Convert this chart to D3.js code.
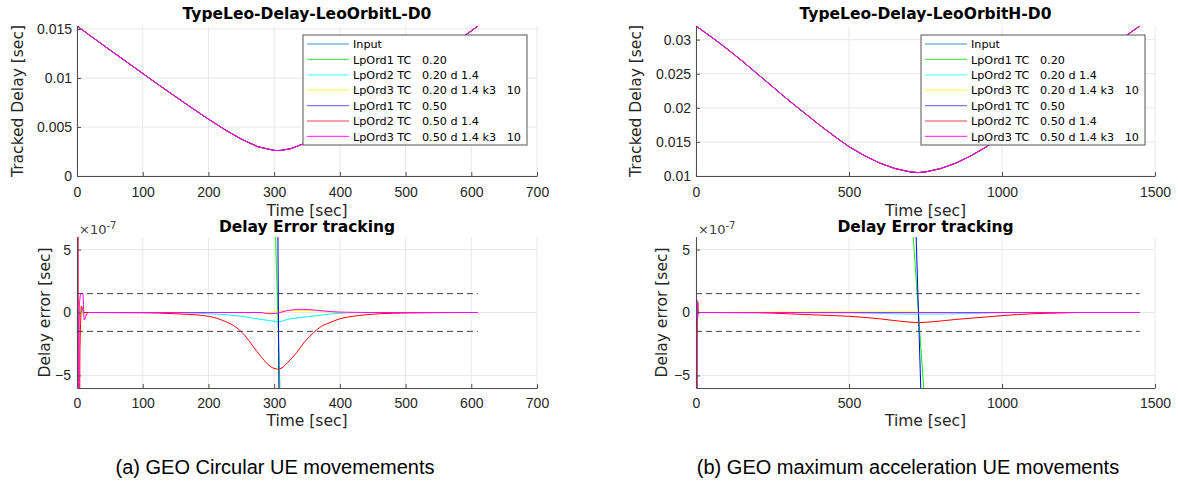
<!DOCTYPE html>
<html>
<head>
<meta charset="utf-8">
<script src="https://cdn.jsdelivr.net/npm/d3@7"></script>
<style>
  body { margin: 0; background: #fff; }
  svg { font-family: 'DejaVu Sans', sans-serif; }
  .axis .tick text { fill: #262626; font-size: 14px; }
  .axis path.domain { stroke: #4d4d4d; }
  .axis .tick line { stroke: #4d4d4d; }
  .grid { stroke: #e8e8e8; stroke-width: 1px; }
  .lbl { fill: #262626; font-size: 15.5px; }
  .ttl { fill: #000; font-size: 15.5px; font-weight: bold; }
  .leg text { font-size: 11.2px; fill: #000; }
  .cap { font-family: 'Liberation Sans', Arial, sans-serif; font-size: 20px; fill: #000; }
  .thr { fill: none; stroke: #404040; stroke-width: 1px; stroke-dasharray: 6,4; }
</style>
</head>
<body>
<svg id="fig" width="1178" height="481"></svg>
<script>
// ---- data ----
var legendLabels = ['Input', 'LpOrd1 TC   0.20', 'LpOrd2 TC   0.20 d 1.4', 'LpOrd3 TC   0.20 d 1.4 k3   10',
                    'LpOrd1 TC   0.50', 'LpOrd2 TC   0.50 d 1.4', 'LpOrd3 TC   0.50 d 1.4 k3   10'];

// panel (a): LeoOrbitL
var timeL  = [0, 25, 50, 75, 100, 125, 150, 175, 200, 225, 250, 275, 300, 305, 310, 325, 350, 375, 400, 425, 450, 475, 500, 525, 550, 575, 600, 610];
var delayL = [0.0153, 0.01407, 0.01286, 0.01166, 0.01046, 0.00926, 0.00809, 0.00693, 0.0058, 0.00473, 0.00376, 0.00299, 0.00261, 0.0026,
              0.00261, 0.00278, 0.00342, 0.00433, 0.00536, 0.00647, 0.00762, 0.00879, 0.00998, 0.01118, 0.01238, 0.01359, 0.0148, 0.0153];
var xTicksL = [0, 100, 200, 300, 400, 500, 600, 700];
var yTicksL = [0, 0.005, 0.01, 0.015];
var yTickLabelsL = ['0', '0.005', '0.01', '0.015'];

// tracking errors, units of 1e-7 s, [time, error]
var errGreenL   = [[0,0],[1,95],[280,70],[296,25],[302,6.5],[305.5,0],[309,-6.5],[315,-25],[330,-70],[610,-95]];
var errCyanL    = [[0,0],[0.7,-25],[2,-3.4],[4,0.5],[8,0],[150,-0.02],[200,-0.1],[250,-0.3],[280,-0.55],[300,-0.7],[305,-0.75],
                   [320,-0.55],[340,-0.4],[360,-0.28],[380,-0.15],[400,-0.06],[430,0],[610,0]];
var errYellowL  = [[0,0],[0.5,-30],[1.5,-20],[3,1],[6,-0.3],[10,0],[290,0],[300,0.05],[320,0.15],[350,0.15],[380,0.08],[400,0.02],[430,0],[520,0]];
var errBlueL    = [[0,0],[0.5,240],[300,60],[305,12],[306.5,0],[308,-12],[313,-60],[610,-240]];
var errRedL     = [[0,0],[1,40],[2.5,-40],[4.5,-3],[7,0.5],[10,0],[100,-0.02],[150,-0.1],[200,-0.3],[225,-0.7],[240,-1.1],[255,-1.8],
                   [268,-2.7],[280,-3.5],[290,-4.1],[298,-4.4],[305,-4.5],[312,-4.4],[320,-4.0],[334,-3.2],[347,-2.3],[360,-1.6],
                   [372,-1.1],[385,-0.8],[400,-0.5],[420,-0.3],[440,-0.18],[460,-0.1],[500,-0.04],[550,-0.01],[610,0]];
var errMagentaL = [[0,0],[0.4,40],[1.8,-40],[3.5,0.5],[6,1.5],[9,1.5],[11,-0.6],[14,-0.2],[18,0],[280,0],[292,-0.1],[305,-0.05],
                   [320,0.15],[340,0.25],[360,0.2],[380,0.1],[400,0.03],[450,0],[610,0]];

// panel (b): LeoOrbitH
var timeH  = [0, 50, 100, 150, 200, 250, 300, 350, 400, 450, 500, 550, 600, 650, 700, 725, 750, 800, 850, 900, 950, 1000,
              1050, 1100, 1150, 1200, 1250, 1300, 1350, 1400, 1450];
var delayH = [0.0320, 0.0304, 0.0287, 0.0269, 0.0250, 0.0231, 0.0212, 0.0194, 0.0176, 0.0159, 0.0143, 0.0130, 0.0119, 0.0111, 0.0106,
              0.0105, 0.0106, 0.0111, 0.0119, 0.0130, 0.0143, 0.0159, 0.0176, 0.0194, 0.0212, 0.0231, 0.0250, 0.0269, 0.0287, 0.0304, 0.0320];
var xTicksH = [0, 500, 1000, 1500];
var yTicksH = [0.01, 0.015, 0.02, 0.025, 0.03];
var yTickLabelsH = ['0.01', '0.015', '0.02', '0.025', '0.03'];

var errGreenH   = [[0,0],[1,50],[600,30],[697,10.3],[709,6.3],[727,0],[745,-6.3],[757,-10.3],[850,-30],[1450,-50]];
var errCyanH    = [[0,0],[0.5,-20],[2,-1],[4,0],[500,-0.03],[650,-0.1],[730,-0.13],[850,-0.1],[950,-0.05],[1000,0],[1450,0]];
var errYellowH  = [[0,0],[0.5,15],[2,-2],[4,0],[700,0.04],[740,0.02],[800,0],[1450,0]];
var errBlueH    = [[0,0],[0.5,125],[600,70],[712,12],[719,6.4],[727,0],[735,-6.4],[742,-12],[850,-70],[1450,-125]];
var errRedH     = [[0,0],[1,60],[2.5,-60],[4,-1.8],[6,0.8],[8,0],[200,-0.02],[300,-0.1],[400,-0.2],[500,-0.3],[600,-0.5],[670,-0.7],
                   [730,-0.8],[780,-0.72],[850,-0.55],[950,-0.35],[1000,-0.25],[1100,-0.1],[1200,-0.03],[1250,0],[1450,0]];
var errMagentaH = [[0,0],[0.4,60],[1.5,-60],[3,1],[5,-0.5],[8,0],[1450,0]];

var errTicks = [-5, 0, 5];
var threshold = 1.5;

// ---- styles ----
var colors = ['#0072bd', '#00ff00', '#00ffff', '#ffff00', '#0000ff', '#ff0000', '#ff00ff'];
var legColors = ['#3d8fd0', '#5ce65c', '#66ffff', '#ffff55', '#7777ff', '#ee4444', '#ff44ff'];

var panels = [
    { left: 77, right: 537, xMax: 700, xTicks: xTicksL, time: timeL, delay: delayL, yDom: [0, 0.0153],
      yTicks: yTicksL, yTickLabels: yTickLabelsL, tEnd: 610, legX: 303,
      errs: [errGreenL, errCyanL, errYellowL, errBlueL, errRedL, errMagentaL],
      title: 'TypeLeo-Delay-LeoOrbitL-D0', caption: '(a) GEO Circular UE movemements', capX: 275,
      yLblX: 23, eLblX: 50 },
    { left: 696, right: 1155, xMax: 1500, xTicks: xTicksH, time: timeH, delay: delayH, yDom: [0.01, 0.0320],
      yTicks: yTicksH, yTickLabels: yTickLabelsH, tEnd: 1450, legX: 921,
      errs: [errGreenH, errCyanH, errYellowH, errBlueH, errRedH, errMagentaH],
      title: 'TypeLeo-Delay-LeoOrbitH-D0', caption: '(b) GEO maximum acceleration UE movements', capX: 908,
      yLblX: 641, eLblX: 667 }
];

var svg = d3.select('#fig');
var topY0 = 26, topY1 = 176, botY0 = 237, botY1 = 388;

panels.forEach(function(p, pi) {
    var x = d3.scaleLinear().domain([0, p.xMax]).range([p.left, p.right]);
    var yT = d3.scaleLinear().domain(p.yDom).range([topY1, topY0]);
    var yB = d3.scaleLinear().domain([-6, 6]).range([botY1, botY0]);
    var cx = (p.left + p.right) / 2;

    // clip paths
    var defs = svg.append('defs');
    defs.append('clipPath').attr('id', 'ct' + pi).append('rect')
        .attr('x', p.left).attr('y', topY0).attr('width', p.right - p.left).attr('height', topY1 - topY0);
    defs.append('clipPath').attr('id', 'cb' + pi).append('rect')
        .attr('x', p.left).attr('y', botY0).attr('width', p.right - p.left).attr('height', botY1 - botY0);

    // ---------- top: tracked delay ----------
    var gT = svg.append('g');
    gT.selectAll('.gx').data(p.xTicks).enter().append('line').attr('class', 'grid')
        .attr('x1', function(d) { return x(d); }).attr('x2', function(d) { return x(d); })
        .attr('y1', topY0).attr('y2', topY1);
    gT.selectAll('.gy').data(p.yTicks).enter().append('line').attr('class', 'grid')
        .attr('x1', p.left).attr('x2', p.right)
        .attr('y1', function(d) { return yT(d); }).attr('y2', function(d) { return yT(d); });

    var lineT = d3.line().x(function(d) { return x(d[0]); }).y(function(d) { return yT(d[1]); });
    var pts = p.time.map(function(t, i) { return [t, p.delay[i]]; });
    var curves = gT.append('g').attr('clip-path', 'url(#ct' + pi + ')');
    colors.forEach(function(c) {
        curves.append('path').datum(pts).attr('d', lineT)
            .attr('fill', 'none').attr('stroke', c).attr('stroke-width', 1);
    });

    gT.append('g').attr('class', 'axis').attr('transform', 'translate(0,' + topY1 + ')')
        .call(d3.axisBottom(x).tickValues(p.xTicks).tickFormat(d3.format('d'))
              .tickSizeInner(-4).tickSizeOuter(0).tickPadding(11));
    gT.append('g').attr('class', 'axis').attr('transform', 'translate(' + p.left + ',0)')
        .call(d3.axisLeft(yT).tickValues(p.yTicks).tickSizeInner(-4).tickSizeOuter(0).tickPadding(5)
              .tickFormat(function(d, i) { return p.yTickLabels[i]; }));

    gT.append('text').attr('class', 'ttl').attr('x', cx).attr('y', 19)
        .attr('text-anchor', 'middle').text(p.title);
    gT.append('text').attr('class', 'lbl').attr('x', cx).attr('y', 216)
        .attr('text-anchor', 'middle').text('Time [sec]');
    gT.append('text').attr('class', 'lbl').attr('text-anchor', 'middle')
        .attr('transform', 'translate(' + p.yLblX + ',' + ((topY0 + topY1) / 2) + ') rotate(-90)')
        .text('Tracked Delay [sec]');

    // legend (keep MATLAB's runs of spaces with non-breaking spaces)
    var leg = gT.append('g').attr('class', 'leg').attr('transform', 'translate(' + p.legX + ',35)');
    leg.append('rect').attr('width', 224).attr('height', 110)
        .attr('fill', '#fff').attr('stroke', '#555').attr('stroke-width', 1);
    legendLabels.forEach(function(lab, i) {
        var ly = 9 + i * 15.4;
        leg.append('line').attr('x1', 4).attr('x2', 46).attr('y1', ly).attr('y2', ly)
            .attr('stroke', legColors[i]).attr('stroke-width', 1.2);
        leg.append('text').attr('x', 50).attr('y', ly + 4.2)
            .text(lab.replace(/ /g, '\u00a0'));
    });

    // ---------- bottom: delay error ----------
    var gB = svg.append('g');
    gB.selectAll('.gx').data(p.xTicks).enter().append('line').attr('class', 'grid')
        .attr('x1', function(d) { return x(d); }).attr('x2', function(d) { return x(d); })
        .attr('y1', botY0).attr('y2', botY1);
    gB.selectAll('.gy').data(errTicks).enter().append('line').attr('class', 'grid')
        .attr('x1', p.left).attr('x2', p.right)
        .attr('y1', function(d) { return yB(d); }).attr('y2', function(d) { return yB(d); });

    var lineB = d3.line().curve(d3.curveMonotoneX)
        .x(function(d) { return x(d[0]); }).y(function(d) { return yB(d[1]); });
    var errG = gB.append('g').attr('clip-path', 'url(#cb' + pi + ')');
    p.errs.forEach(function(e, i) {
        errG.append('path').datum(e).attr('d', lineB)
            .attr('fill', 'none').attr('stroke', colors[i + 1]).attr('stroke-width', 1);
    });
    [threshold, -threshold].forEach(function(v) {
        errG.append('path').datum([[0, v], [p.tEnd, v]]).attr('class', 'thr')
            .attr('d', d3.line().x(function(d) { return x(d[0]); }).y(function(d) { return yB(d[1]); }));
    });

    gB.append('g').attr('class', 'axis').attr('transform', 'translate(0,' + botY1 + ')')
        .call(d3.axisBottom(x).tickValues(p.xTicks).tickFormat(d3.format('d'))
              .tickSizeInner(-4).tickSizeOuter(0).tickPadding(10));
    gB.append('g').attr('class', 'axis').attr('transform', 'translate(' + p.left + ',0)')
        .call(d3.axisLeft(yB).tickValues(errTicks).tickSizeInner(-4).tickSizeOuter(0).tickPadding(6));

    var exp = gB.append('text').attr('x', p.left + 2).attr('y', 234)
        .attr('fill', '#404040').style('font-size', '13px');
    exp.append('tspan').text('\u00d710');
    exp.append('tspan').attr('dy', -5).style('font-size', '10px').text('-7');

    gB.append('text').attr('class', 'ttl').attr('x', cx).attr('y', 232)
        .attr('text-anchor', 'middle').text('Delay Error tracking');
    gB.append('text').attr('class', 'lbl').attr('x', cx).attr('y', 426)
        .attr('text-anchor', 'middle').text('Time [sec]');
    gB.append('text').attr('class', 'lbl').attr('text-anchor', 'middle')
        .attr('transform', 'translate(' + p.eLblX + ',' + ((botY0 + botY1) / 2) + ') rotate(-90)')
        .text('Delay error [sec]');

    svg.append('text').attr('class', 'cap').attr('x', p.capX).attr('y', 474)
        .attr('text-anchor', 'middle').text(p.caption);
});
</script>
</body>
</html>
